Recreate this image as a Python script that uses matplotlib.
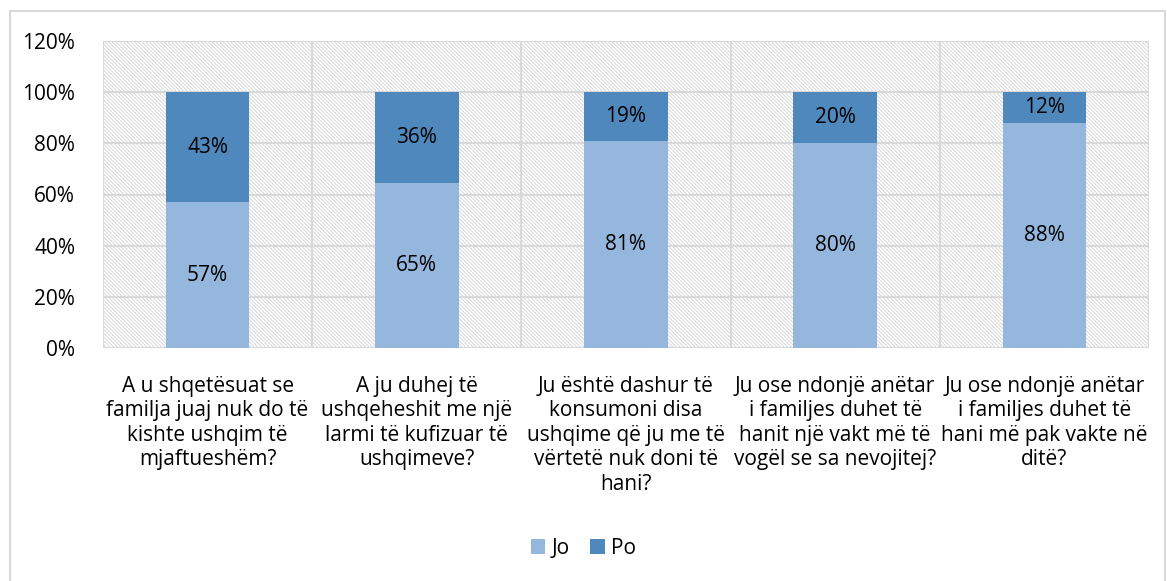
import matplotlib.pyplot as plt
from matplotlib.patches import Rectangle
import numpy as np

categories = [
    "A u shqetësuat se\nfamilja juaj nuk do të\nkishte ushqim të\nmjaftueshëm?",
    "A ju duhej të\nushqeheshit me një\nlarmi të kufizuar të\nushqimeve?",
    "Ju është dashur të\nkonsumoni disa\nushqime që ju me të\nvërtetë nuk doni të\nhani?",
    "Ju ose ndonjë anëtar\ni familjes duhet të\nhanit një vakt më të\nvogël se sa nevojitej?",
    "Ju ose ndonjë anëtar\ni familjes duhet të\nhani më pak vakte në\nditë?",
]
jo = [57, 64.5, 81, 80, 88]
po = [43, 35.5, 19, 20, 12]
yticks = [0, 20, 40, 60, 80, 100, 120]

col_jo = "#95B7DE"
col_po = "#4F88BC"
grid_col = "#D9D9D9"

plt.rcParams['font.family'] = ['Open Sans', 'DejaVu Sans']
plt.rcParams['hatch.linewidth'] = 0.8

fig = plt.figure(figsize=(11.67, 5.81), dpi=100)
ax = fig.add_axes([103 / 1167, 1 - 348 / 581, (1149 - 103) / 1167, (348 - 41) / 581])

n = len(categories)
x = np.arange(n)

# hatched plot-area background
ax.add_patch(Rectangle((-0.5, 0), n, 120, facecolor="white", edgecolor="#DCDCDC",
                       linewidth=0, hatch="\\" * 9, zorder=0.5))

for y in yticks:
    ax.axhline(y, color=grid_col, lw=1.5, zorder=1)
for b in np.arange(n + 1) - 0.5:
    ax.axvline(b, color=grid_col, lw=1.5, zorder=1)

ax.bar(x, jo, width=0.4, color=col_jo, label="Jo", zorder=2)
ax.bar(x, po, width=0.4, bottom=jo, color=col_po, label="Po", zorder=2)

for i in range(n):
    ax.text(x[i], jo[i] / 2, f"{int(jo[i] + 0.5)}%", ha="center", va="center",
            fontsize=15, zorder=3)
    ax.text(x[i], jo[i] + po[i] / 2, f"{int(po[i] + 0.5)}%", ha="center", va="center",
            fontsize=15, zorder=3)

ax.set_xlim(-0.5, n - 0.5)
ax.set_ylim(0, 120)
ax.set_yticks(yticks)
ax.set_yticklabels([f"{v}%" for v in yticks], fontsize=15)
ax.set_xticks(x)
ax.set_xticklabels(categories, fontsize=15, linespacing=1.22)
ax.tick_params(length=0)
ax.tick_params(axis="x", pad=20)
ax.tick_params(axis="y", pad=20)
for s in ax.spines.values():
    s.set_visible(False)

fig.legend(loc="center", bbox_to_anchor=(0.5, 1 - 548 / 581), ncol=2, frameon=False,
           fontsize=15, handlelength=0.7, handleheight=0.7, handletextpad=0.3,
           columnspacing=1.0)

fig.add_artist(Rectangle((10 / 1167, -0.01), (1165 - 10) / 1167, 1.01 - 11 / 581,
                         transform=fig.transFigure, fill=False, edgecolor=grid_col, lw=1.5))

fig.savefig("out.png", dpi=100)
